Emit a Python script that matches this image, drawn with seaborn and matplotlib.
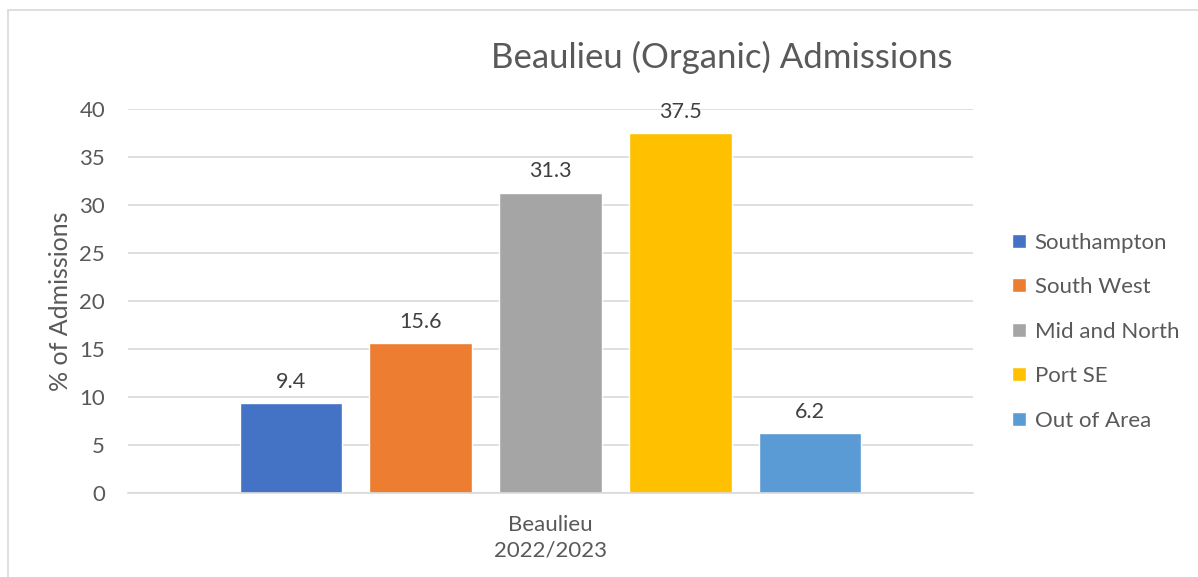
import pandas as pd
import matplotlib.pyplot as plt
import seaborn as sns
from matplotlib.patches import Rectangle

# data
regions = ["Southampton", "South West", "Mid and North", "Port SE", "Out of Area"]
admissions_pct = [9.4, 15.6, 31.3, 37.5, 6.2]
group_label = "Beaulieu\n2022/2023"
colors = ["#4472C4", "#ED7D31", "#A5A5A5", "#FFC000", "#5B9BD5"]

df = pd.DataFrame({
    "group": [group_label] * len(regions),
    "region": regions,
    "pct": admissions_pct,
})

sns.set_theme(style="white")
plt.rcParams["font.family"] = ["Lato", "DejaVu Sans"]
text_col = "#595959"

fig = plt.figure(figsize=(11.98, 5.77), dpi=100)
ax = fig.add_axes([128 / 1198, 1 - 493 / 577, 845 / 1198, 384 / 577])

sns.barplot(data=df, x="group", y="pct", hue="region", hue_order=regions,
            palette=colors, width=0.8, gap=0.21, saturation=1, ax=ax)

for cont in ax.containers:
    ax.bar_label(cont, fmt="%.1f", padding=8, fontsize=15.5, color="#404040")

ax.set_ylim(0, 40)
ax.set_xlim(-0.521, 0.521)
ax.set_yticks(range(0, 41, 5))
ax.yaxis.grid(True, color="#D9D9D9", linewidth=1.2)
ax.set_axisbelow(True)
for s in ["top", "right", "left"]:
    ax.spines[s].set_visible(False)
ax.spines["bottom"].set_color("#D9D9D9")
ax.spines["bottom"].set_linewidth(1.2)
ax.tick_params(axis="both", length=0, labelsize=16, colors=text_col)
ax.tick_params(axis="y", pad=16.5)
ax.tick_params(axis="x", pad=16)
for lbl in ax.get_xticklabels():
    lbl.set_linespacing(1.3)
ax.set_xlabel("")
ax.set_ylabel("% of Admissions", fontsize=18, color=text_col, labelpad=5)

fig.text(722 / 1198, 1 - 57 / 577, "Beaulieu (Organic) Admissions",
         fontsize=25, color=text_col, ha="center", va="center")

ax.legend(loc="center left", bbox_to_anchor=(1.023, 0.42), frameon=False,
          fontsize=16, labelcolor=text_col, handlelength=0.6, handleheight=0.6,
          handletextpad=0.4, labelspacing=1.1)

# chart area border, as in the Excel export
fig.patches.append(Rectangle((8 / 1198, -0.05), 1.2, 1 - 10 / 577 + 0.05,
                             transform=fig.transFigure, fill=False,
                             edgecolor="#D9D9D9", linewidth=1.2))

fig.savefig("out.png", dpi=100)
